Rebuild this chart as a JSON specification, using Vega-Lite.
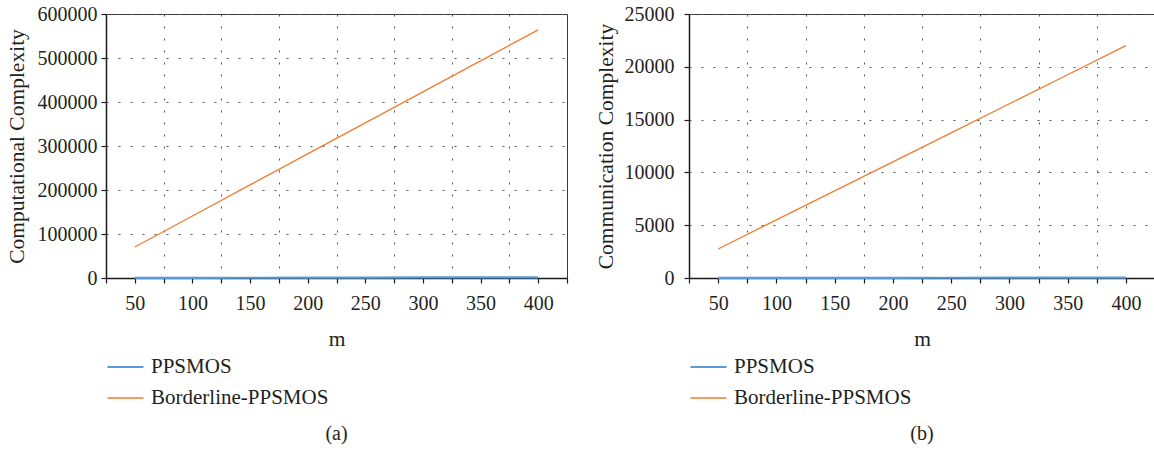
{
  "$schema": "https://vega.github.io/schema/vega-lite/v6.json",
  "padding": {"left": 5, "top": 3, "right": 0, "bottom": 0},
  "datasets": {
    "comp": [
      {"m": 50, "series": "PPSMOS", "value": 200},
      {"m": 100, "series": "PPSMOS", "value": 400},
      {"m": 150, "series": "PPSMOS", "value": 600},
      {"m": 200, "series": "PPSMOS", "value": 800},
      {"m": 250, "series": "PPSMOS", "value": 1000},
      {"m": 300, "series": "PPSMOS", "value": 1200},
      {"m": 350, "series": "PPSMOS", "value": 1400},
      {"m": 400, "series": "PPSMOS", "value": 1600},
      {"m": 50, "series": "Borderline-PPSMOS", "value": 70500},
      {"m": 100, "series": "Borderline-PPSMOS", "value": 141000},
      {"m": 150, "series": "Borderline-PPSMOS", "value": 211500},
      {"m": 200, "series": "Borderline-PPSMOS", "value": 282000},
      {"m": 250, "series": "Borderline-PPSMOS", "value": 352500},
      {"m": 300, "series": "Borderline-PPSMOS", "value": 423000},
      {"m": 350, "series": "Borderline-PPSMOS", "value": 493500},
      {"m": 400, "series": "Borderline-PPSMOS", "value": 564000}
    ],
    "comm": [
      {"m": 50, "series": "PPSMOS", "value": 5},
      {"m": 100, "series": "PPSMOS", "value": 10},
      {"m": 150, "series": "PPSMOS", "value": 15},
      {"m": 200, "series": "PPSMOS", "value": 20},
      {"m": 250, "series": "PPSMOS", "value": 25},
      {"m": 300, "series": "PPSMOS", "value": 30},
      {"m": 350, "series": "PPSMOS", "value": 35},
      {"m": 400, "series": "PPSMOS", "value": 40},
      {"m": 50, "series": "Borderline-PPSMOS", "value": 2750},
      {"m": 100, "series": "Borderline-PPSMOS", "value": 5500},
      {"m": 150, "series": "Borderline-PPSMOS", "value": 8250},
      {"m": 200, "series": "Borderline-PPSMOS", "value": 11000},
      {"m": 250, "series": "Borderline-PPSMOS", "value": 13750},
      {"m": 300, "series": "Borderline-PPSMOS", "value": 16500},
      {"m": 350, "series": "Borderline-PPSMOS", "value": 19250},
      {"m": 400, "series": "Borderline-PPSMOS", "value": 22000}
    ]
  },
  "spacing": 25,
  "resolve": {
    "scale": {"color": "independent", "strokeWidth": "independent"},
    "legend": {"color": "independent"}
  },
  "hconcat": [
    {
      "width": 461,
      "height": 264,
      "data": {"name": "comp"},
      "title": {"text": "(a)", "orient": "bottom", "anchor": "middle", "offset": 16},
      "mark": {"type": "line"},
      "encoding": {
        "x": {
          "field": "m", "type": "quantitative",
          "scale": {"domain": [25, 425], "nice": false, "zero": false},
          "axis": {
            "title": "m",
            "values": [25, 50, 75, 100, 125, 150, 175, 200, 225, 250, 275, 300, 325, 350, 375, 400, 425],
            "labelExpr": "datum.value % 50 == 0 ? datum.label : ''",
            "labelPadding": 10,
            "titlePadding": 15,
            "gridOpacity": {"condition": {"test": "datum.value % 50 == 25 && datum.value > 25 && datum.value < 425", "value": 1}, "value": 0}
          }
        },
        "y": {
          "field": "value", "type": "quantitative",
          "scale": {"domain": [0, 600000], "nice": false},
          "axis": {
            "title": "Computational Complexity",
            "values": [0, 100000, 200000, 300000, 400000, 500000, 600000],
            "format": "d",
            "labelPadding": 4,
            "titlePadding": 9
          }
        },
        "color": {
          "field": "series", "type": "nominal",
          "scale": {"domain": ["PPSMOS", "Borderline-PPSMOS"], "range": ["#5b9bd5", "#ed7d31"]},
          "legend": {"orient": "none", "legendX": 0, "legendY": 343, "title": null}
        },
        "strokeWidth": {
          "field": "series", "type": "nominal",
          "scale": {"domain": ["PPSMOS", "Borderline-PPSMOS"], "range": [2.2, 1.3]},
          "legend": null
        }
      }
    },
    {
      "width": 466,
      "height": 264,
      "data": {"name": "comm"},
      "title": {"text": "(b)", "orient": "bottom", "anchor": "middle", "offset": 16},
      "mark": {"type": "line"},
      "encoding": {
        "x": {
          "field": "m", "type": "quantitative",
          "scale": {"domain": [25, 425], "nice": false, "zero": false},
          "axis": {
            "title": "m",
            "values": [25, 50, 75, 100, 125, 150, 175, 200, 225, 250, 275, 300, 325, 350, 375, 400, 425],
            "labelExpr": "datum.value % 50 == 0 ? datum.label : ''",
            "labelPadding": 10,
            "titlePadding": 15,
            "gridOpacity": {"condition": {"test": "datum.value % 50 == 25 && datum.value > 25 && datum.value < 425", "value": 1}, "value": 0}
          }
        },
        "y": {
          "field": "value", "type": "quantitative",
          "scale": {"domain": [0, 25000], "nice": false},
          "axis": {
            "title": "Communication Complexity",
            "values": [0, 5000, 10000, 15000, 20000, 25000],
            "format": "d",
            "labelPadding": 10,
            "titlePadding": 7
          }
        },
        "color": {
          "field": "series", "type": "nominal",
          "scale": {"domain": ["PPSMOS", "Borderline-PPSMOS"], "range": ["#5b9bd5", "#ed7d31"]},
          "legend": {"orient": "none", "legendX": 0, "legendY": 343, "title": null}
        },
        "strokeWidth": {
          "field": "series", "type": "nominal",
          "scale": {"domain": ["PPSMOS", "Borderline-PPSMOS"], "range": [2.2, 1.3]},
          "legend": null
        }
      }
    }
  ],
  "config": {
    "font": "Liberation Serif, Times New Roman, serif",
    "view": {"stroke": "#3a3a3a", "strokeWidth": 1},
    "axis": {
      "labelFont": "Liberation Serif, Times New Roman, serif",
      "labelFontSize": 20,
      "labelColor": "#231f20",
      "titleFont": "Liberation Serif, Times New Roman, serif",
      "titleFontSize": 21.5,
      "titleFontWeight": "normal",
      "titleColor": "#231f20",
      "domainColor": "#1a1a1a",
      "domainWidth": 1.5,
      "tickColor": "#1a1a1a",
      "tickSize": 5,
      "tickWidth": 1.2,
      "gridColor": "#555555",
      "gridDash": [2, 10],
      "gridWidth": 1
    },
    "legend": {
      "labelFont": "Liberation Serif, Times New Roman, serif",
      "labelFontSize": 21,
      "labelColor": "#231f20",
      "labelLimit": 0,
      "symbolType": "stroke",
      "symbolSize": 1296,
      "symbolStrokeWidth": 1.5,
      "labelOffset": 6,
      "clipHeight": 20,
      "rowPadding": 10,
      "padding": 0
    },
    "title": {
      "font": "Liberation Serif, Times New Roman, serif",
      "fontSize": 20,
      "fontWeight": "normal",
      "color": "#231f20"
    }
  }
}
